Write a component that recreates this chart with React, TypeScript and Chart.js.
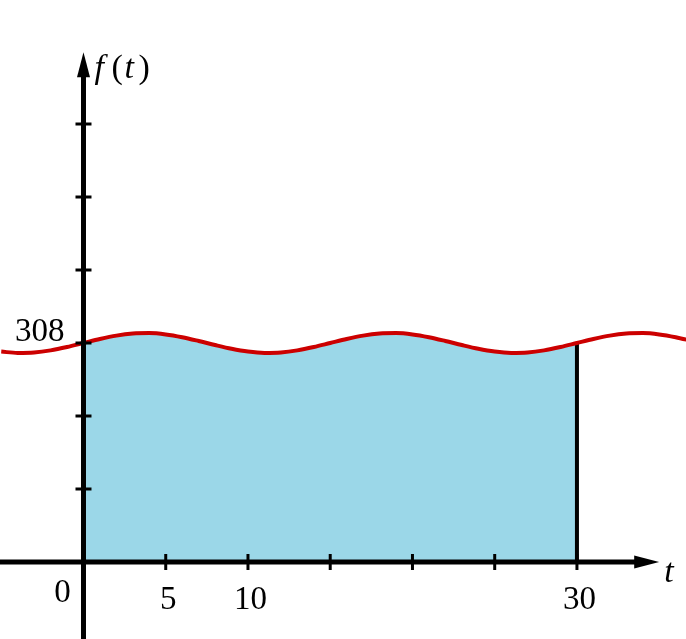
import React, { useEffect, useRef } from "react";
import { Chart, registerables } from "chart.js";

Chart.register(...registerables);

// Sampled readings of the red curve f(t)
const curveT = [-5, -4, -3, -2, -1, 0, 1, 2, 3, 4, 5, 6, 7, 8, 9, 10, 11, 12, 13, 14, 15, 16, 17, 18, 19, 20, 21, 22, 23, 24, 25, 26, 27, 28, 29, 30, 31, 32, 33, 34, 35, 36, 37];
const curveF = [295.9, 294.1, 294.7, 297.6, 302.3, 308, 313.7, 318.4, 321.3, 321.9, 320.1, 316.2, 310.9, 305.1, 299.8, 295.9, 294.1, 294.7, 297.6, 302.3, 308, 313.7, 318.4, 321.3, 321.9, 320.1, 316.2, 310.9, 305.1, 299.8, 295.9, 294.1, 294.7, 297.6, 302.3, 308, 313.7, 318.4, 321.3, 321.9, 320.1, 316.2, 310.9];

// Shaded interval
const areaStart = 0;
const areaEnd = 30;
const areaEndValue = 308;

// Axis ticks
const xTicks = [5, 10, 15, 20, 25, 30];
const yTicks = [102.67, 205.33, 308, 410.67, 513.33, 616];
const xTickLabels = ["5", "10", "30"];
const xTickLabelValues = [5, 10, 30];
const yTickLabels = ["308"];
const yTickLabelValues = [308];
const originLabel = "0";

// Axis extents (data units)
const xMin = -5.076;
const xMax = 36.63;
const yMin = -108.3;
const yMax = 790.4;
const xArrowTip = 35;
const yArrowTip = 717;

const SERIF = '"Liberation Serif", "Times New Roman", serif';

export default function App() {
  const ref = useRef<HTMLCanvasElement | null>(null);

  useEffect(() => {
    const canvas = ref.current;
    if (!canvas) return;

    const curvePts = curveT.map((t, i) => ({ x: t, y: curveF[i] }));
    const areaPts = curvePts.filter((p) => p.x >= areaStart && p.x <= areaEnd);

    const decor = {
      id: "decor",
      afterDatasetsDraw(chart: any) {
        const ctx = chart.ctx as CanvasRenderingContext2D;
        const xs = chart.scales.x;
        const ys = chart.scales.y;
        const x0 = xs.getPixelForValue(0);
        const y0 = ys.getPixelForValue(0);
        ctx.save();
        ctx.fillStyle = "#000";
        // x arrow
        const xt = xs.getPixelForValue(xArrowTip);
        ctx.beginPath();
        ctx.moveTo(xt, y0);
        ctx.lineTo(xt - 25, y0 - 6.5);
        ctx.lineTo(xt - 25, y0 + 6.5);
        ctx.closePath();
        ctx.fill();
        // y arrow
        const yt = ys.getPixelForValue(yArrowTip);
        ctx.beginPath();
        ctx.moveTo(x0, yt);
        ctx.lineTo(x0 - 6.5, yt + 25);
        ctx.lineTo(x0 + 6.5, yt + 25);
        ctx.closePath();
        ctx.fill();

        // labels
        ctx.font = `33px ${SERIF}`;
        ctx.textAlign = "center";
        ctx.textBaseline = "middle";
        xTickLabels.forEach((lab, i) => {
          const px = xs.getPixelForValue(xTickLabelValues[i]);
          ctx.fillText(lab, px + 2.5, y0 + 38);
        });
        ctx.fillText(originLabel, x0 - 21, y0 + 31);
        ctx.textAlign = "right";
        yTickLabels.forEach((lab, i) => {
          const py = ys.getPixelForValue(yTickLabelValues[i]);
          ctx.fillText(lab, x0 - 19, py - 11);
        });

        // axis names
        ctx.textAlign = "left";
        ctx.font = `italic 34px ${SERIF}`;
        ctx.fillText("t", xt + 5, y0 + 11);
        const fy = yt + 17;
        ctx.fillText("f", x0 + 11, fy);
        ctx.font = `34px ${SERIF}`;
        ctx.fillText("(", x0 + 28, fy);
        ctx.font = `italic 34px ${SERIF}`;
        ctx.fillText("t", x0 + 41, fy);
        ctx.font = `34px ${SERIF}`;
        ctx.fillText(")", x0 + 55, fy);
        ctx.restore();
      },
    };

    const chart = new Chart(canvas, {
      type: "line",
      data: {
        datasets: [
          {
            label: "yticks",
            data: yTicks.map((v) => ({ x: 0, y: v })),
            showLine: false,
            pointStyle: "line",
            pointRadius: 8,
            borderColor: "#000",
            borderWidth: 3,
            order: 0,
          },
          {
            label: "xticks",
            data: xTicks.map((v) => ({ x: v, y: 0 })),
            showLine: false,
            pointStyle: "line",
            rotation: 90,
            pointRadius: 8,
            borderColor: "#000",
            borderWidth: 3,
            order: 0,
          },
          {
            label: "xaxis",
            data: [
              { x: xMin - 0.2, y: 0 },
              { x: xArrowTip - 1, y: 0 },
            ],
            borderColor: "#000",
            borderWidth: 5,
            pointRadius: 0,
            tension: 0,
            order: 1,
          },
          {
            label: "yaxis",
            data: [
              { x: 0, y: yMin - 10 },
              { x: 0, y: yArrowTip - 20 },
            ],
            borderColor: "#000",
            borderWidth: 5,
            pointRadius: 0,
            tension: 0,
            order: 1,
          },
          {
            label: "f(t)",
            data: curvePts,
            borderColor: "#cc0000",
            borderWidth: 4,
            pointRadius: 0,
            cubicInterpolationMode: "monotone",
            fill: false,
            order: 2,
          },
          {
            label: "edge",
            data: [
              { x: areaEnd, y: 0 },
              { x: areaEnd, y: areaEndValue },
            ],
            borderColor: "#000",
            borderWidth: 4,
            pointRadius: 0,
            tension: 0,
            order: 3,
          },
          {
            label: "area",
            data: areaPts,
            borderWidth: 0,
            borderColor: "rgba(0,0,0,0)",
            backgroundColor: "rgb(155,215,232)",
            pointRadius: 0,
            cubicInterpolationMode: "monotone",
            fill: "origin",
            order: 4,
          },
        ],
      },
      options: {
        responsive: false,
        animation: false,
        layout: { padding: 0, autoPadding: false },
        plugins: {
          legend: { display: false },
          tooltip: { enabled: false },
        },
        scales: {
          x: { type: "linear", min: xMin, max: xMax, display: false },
          y: { type: "linear", min: yMin, max: yMax, display: false },
        },
      },
      plugins: [decor],
    });

    return () => chart.destroy();
  }, []);

  return (
    <div style={{ position: "fixed", left: 0, top: 0, width: 686, height: 639, background: "#fff" }}>
      <canvas ref={ref} width={686} height={639} style={{ display: "block" }} />
    </div>
  );
}
